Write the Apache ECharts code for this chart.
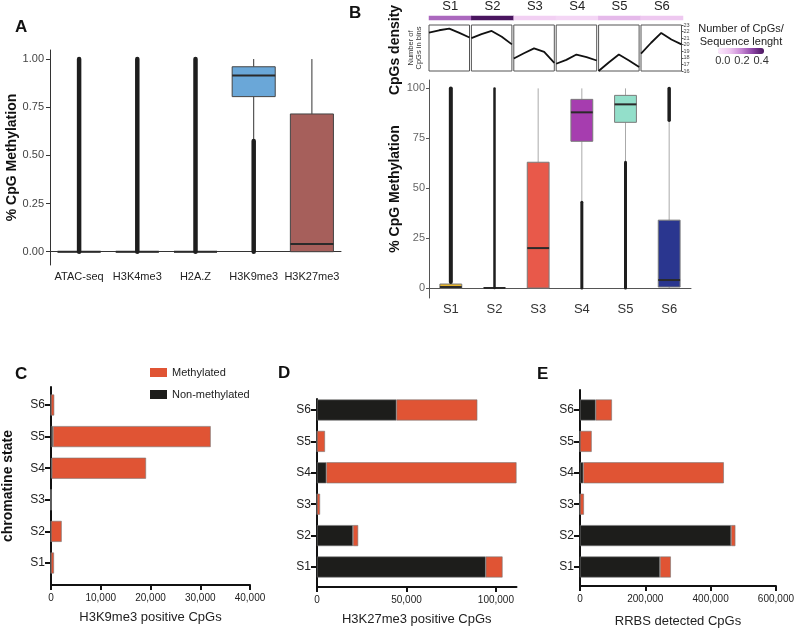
<!DOCTYPE html>
<html>
<head>
<meta charset="utf-8">
<title>CpG methylation by chromatin state</title>
<script src="https://cdn.jsdelivr.net/npm/echarts@6/dist/echarts.min.js"></script>
</head>
<body style="margin:0">
<div id="main" style="width:797px;height:629px;"></div>
<script>
// ---- A: methylation at marked regions ----
var marks = ['ATAC-seq', 'H3K4me3', 'H2A.Z', 'H3K9me3', 'H3K27me3'];
// [lower whisker, Q1, median, Q3, upper whisker]
var markStats = [
  [0, 0, 0, 0, 0],
  [0, 0, 0, 0, 0],
  [0, 0, 0, 0, 0],
  [0.58, 0.805, 0.915, 0.96, 1.0],
  [0, 0, 0.04, 0.715, 1.0]
];
// span covered by outlier points [from, to]
var markOutliers = [[0, 1], [0, 1], [0, 1], [0, 0.575], null];
var markTicks = [0, 0.25, 0.5, 0.75, 1];

// ---- B: methylation per chromatin state ----
var states = ['S1', 'S2', 'S3', 'S4', 'S5', 'S6'];
var stateStats = [
  [0, 0, 0.5, 2, 3],
  [0, 0, 0, 0, 0],
  [0, 0, 20, 63, 100],
  [43, 73.5, 88, 94.5, 100],
  [63, 83, 92, 96.5, 100],
  [0, 0.5, 4, 34, 84]
];
var stateOutliers = [[3, 100], [0, 100], null, [0, 43], [0, 63], [84, 100]];
var methTicks = [0, 25, 50, 75, 100];

// CpG density profiles (number of CpGs in bins)
var densityBins = ['1', '2', '3', '4', '5'];
var densityS1 = [21.85, 22.2, 22.45, 21.8, 21.1];
var densityS2 = [21.0, 21.6, 22.1, 21.2, 20.05];
var densityS3 = [17.9, 18.7, 19.45, 18.9, 17.25];
var densityS4 = [17.1, 17.7, 18.5, 18.1, 17.6];
var densityS5 = [16.0, 17.3, 18.5, 17.6, 16.6];
var densityS6 = [18.65, 20.3, 21.8, 20.8, 20.05];
var densityTicks = [16, 17, 18, 19, 20, 21, 22, 23];
// number of CpGs / sequence length
var cpgRatio = [0.25, 0.43, 0.04, 0.02, 0.1, 0.07];
var ratioTicks = [0, 0.2, 0.4];

// ---- C-E: methylated / non-methylated CpGs ----
var k9Non  = [0, 0, 0, 150, 400, 0];
var k9Meth = [600, 2150, 30, 18950, 31700, 650];
var k9Ticks = [0, 10000, 20000, 30000, 40000];

var k27Non  = [94300, 20100, 0, 5200, 0, 44400];
var k27Meth = [9400, 2900, 1700, 106300, 4460, 45200];
var k27Ticks = [0, 50000, 100000];

var rrbsNon  = [243000, 459000, 0, 10000, 0, 47600];
var rrbsMeth = [33000, 13000, 12000, 427000, 35500, 49400];
var rrbsTicks = [0, 200000, 400000, 600000];

var FONT = 'Liberation Sans';
var markFills = ['#ffffff', '#ffffff', '#ffffff', '#6aa7d8', '#a65f5b'];
var stateFills = ['#e8b52a', '#ffffff', '#e8594a', '#a63daf', '#93dfca', '#2a368f'];
var stateSpanWidth = [4, 2.5, 3, 3, 3, 3.5];

function comma(v) {
  return String(v).replace(/\B(?=(\d{3})+(?!\d))/g, ',');
}

function boxRenderer(fills, whiskerColor, borderColor, ratio) {
  return function (params, api) {
    var i = api.value(0);
    var w = api.size([1, 0])[0] * ratio;
    var lo = api.coord([i, api.value(1)]);
    var q1 = api.coord([i, api.value(2)]);
    var md = api.coord([i, api.value(3)]);
    var q3 = api.coord([i, api.value(4)]);
    var hi = api.coord([i, api.value(5)]);
    var x = lo[0];
    return {
      type: 'group',
      children: [
        { type: 'line', shape: { x1: x, y1: hi[1], x2: x, y2: q3[1] }, style: { stroke: whiskerColor, lineWidth: 1 } },
        { type: 'line', shape: { x1: x, y1: q1[1], x2: x, y2: lo[1] }, style: { stroke: whiskerColor, lineWidth: 1 } },
        { type: 'rect', shape: { x: x - w / 2, y: q3[1], width: w, height: q1[1] - q3[1] },
          style: { fill: fills[i], stroke: borderColor, lineWidth: 1 } },
        { type: 'line', shape: { x1: x - w / 2, y1: md[1], x2: x + w / 2, y2: md[1] }, style: { stroke: '#2a2a2a', lineWidth: 2 } }
      ]
    };
  };
}

function spanRenderer(widths) {
  return function (params, api) {
    var i = api.value(0);
    var a = api.coord([i, api.value(1)]);
    var b = api.coord([i, api.value(2)]);
    return {
      type: 'line',
      shape: { x1: a[0], y1: a[1], x2: b[0], y2: b[1] },
      style: { stroke: '#1e1e1e', lineWidth: widths[i], lineCap: 'round' }
    };
  };
}

function spans(list) {
  var out = [];
  list.forEach(function (s, i) { if (s) out.push([i, s[0], s[1]]); });
  return out;
}

var grids = [], xAxes = [], yAxes = [], series = [];

// A (grid 0)
grids.push({ left: 50, top: 50, width: 291, height: 215 });
xAxes.push({
  gridIndex: 0, type: 'category', data: marks,
  axisLine: { lineStyle: { color: '#333' } },
  axisTick: { alignWithLabel: true, length: 4, lineStyle: { color: '#333' } },
  axisLabel: { interval: 0, fontSize: 11, color: '#222', margin: 6, fontFamily: FONT }
});
yAxes.push({
  gridIndex: 0, type: 'value', min: -0.069, max: 1.047,
  splitLine: { show: false },
  axisLine: { show: true, lineStyle: { color: '#333' } },
  axisTick: { show: true, length: 4, customValues: markTicks, lineStyle: { color: '#333' } },
  axisLabel: { customValues: markTicks, fontSize: 11, color: '#444', margin: 6, fontFamily: FONT,
    formatter: function (v) { return v.toFixed(2); } },
  name: '% CpG Methylation', nameLocation: 'middle', nameGap: 29,
  nameTextStyle: { fontSize: 14, fontWeight: 'bold', color: '#111', fontFamily: FONT }
});
series.push({
  type: 'custom', xAxisIndex: 0, yAxisIndex: 0,
  renderItem: boxRenderer(markFills, '#333', '#444', 0.74),
  data: markStats.map(function (s, i) { return [i].concat(s); }),
  encode: { x: 0, y: [1, 2, 3, 4, 5] }
});
series.push({
  type: 'custom', xAxisIndex: 0, yAxisIndex: 0,
  renderItem: spanRenderer([4.5, 4.5, 4.5, 4.5, 4.5]),
  data: spans(markOutliers), encode: { x: 0, y: [1, 2] }
});

// B (grid 1)
grids.push({ left: 429, top: 80, width: 262, height: 218 });
xAxes.push({
  gridIndex: 1, type: 'category', data: states,
  axisLine: { lineStyle: { color: '#555' } },
  axisTick: { alignWithLabel: true, length: 3, lineStyle: { color: '#555' } },
  axisLabel: { interval: 0, fontSize: 13, color: '#333', margin: 5, fontFamily: FONT }
});
yAxes.push({
  gridIndex: 1, type: 'value', min: -5, max: 104.2,
  splitLine: { show: false },
  axisLine: { show: true, lineStyle: { color: '#555' } },
  axisTick: { show: true, length: 3, customValues: methTicks, lineStyle: { color: '#555' } },
  axisLabel: { customValues: methTicks, fontSize: 11, color: '#666', margin: 4, fontFamily: FONT },
  name: '% CpG Methylation', nameLocation: 'middle', nameGap: 27,
  nameTextStyle: { fontSize: 14, fontWeight: 'bold', color: '#111', fontFamily: FONT }
});
series.push({
  type: 'custom', xAxisIndex: 1, yAxisIndex: 1,
  renderItem: boxRenderer(stateFills, '#aaaaaa', '#7a7a7a', 0.5),
  data: stateStats.map(function (s, i) { return [i].concat(s); }),
  encode: { x: 0, y: [1, 2, 3, 4, 5] }
});
series.push({
  type: 'custom', xAxisIndex: 1, yAxisIndex: 1,
  renderItem: spanRenderer(stateSpanWidth),
  data: spans(stateOutliers), encode: { x: 0, y: [1, 2] }
});

// colour strip (grid 2)
grids.push({ left: 429, top: 15, width: 254, height: 5 });
xAxes.push({
  gridIndex: 2, type: 'category', data: states, position: 'top',
  axisLine: { show: false }, axisTick: { show: false },
  axisLabel: { interval: 0, fontSize: 13, color: '#222', margin: 3, fontFamily: FONT }
});
yAxes.push({ gridIndex: 2, type: 'category', data: [''], show: false });
var stripSeriesIndex = series.length;
series.push({
  type: 'heatmap', xAxisIndex: 2, yAxisIndex: 2,
  data: cpgRatio.map(function (v, i) { return [i, 0, v]; })
});

// density mini panels (grids 3-8)
var densityProfiles = [densityS1, densityS2, densityS3, densityS4, densityS5, densityS6];
densityProfiles.forEach(function (prof, i) {
  var g = grids.length;
  grids.push({ left: 429 + i * 42.4, top: 25, width: 40.5, height: 46, show: true,
    borderColor: '#555', borderWidth: 1, backgroundColor: '#fff' });
  xAxes.push({ gridIndex: g, type: 'category', data: densityBins, boundaryGap: false, show: false });
  var y = { gridIndex: g, type: 'value', min: 16, max: 23, splitLine: { show: false } };
  if (i === 5) {
    y.position = 'right';
    y.axisLine = { show: false };
    y.axisTick = { show: true, length: 2, customValues: densityTicks, lineStyle: { color: '#555' } };
    y.axisLabel = { customValues: densityTicks, fontSize: 5.5, color: '#444', margin: 2, fontFamily: FONT };
  } else if (i === 0) {
    y.axisLine = { show: false };
    y.axisTick = { show: false };
    y.axisLabel = { show: false };
    y.name = 'Number of\nCpGs in bins';
    y.nameLocation = 'middle';
    y.nameGap = 6;
    y.nameTextStyle = { fontSize: 7.5, lineHeight: 8, color: '#333', fontFamily: FONT };
  } else {
    y.show = false;
  }
  yAxes.push(y);
  series.push({
    type: 'line', xAxisIndex: g, yAxisIndex: g, data: prof,
    symbol: 'none', lineStyle: { color: '#111', width: 1.8 }
  });
});

// C-E: frame grid (value axes) + bar grid
function countPanel(frame, bars, max, ticks, axisName, nameGap, non, meth, stackId, yName) {
  var f = grids.length;
  grids.push(frame);
  xAxes.push({
    gridIndex: f, type: 'value', min: 0, max: max, splitLine: { show: false },
    axisLine: { lineStyle: { color: '#111', width: 2 } },
    axisTick: { show: true, length: 5, customValues: ticks, lineStyle: { color: '#111', width: 2 } },
    axisLabel: { customValues: ticks, fontSize: 10, color: '#222', margin: 8, fontFamily: FONT, formatter: comma },
    name: axisName, nameLocation: 'middle', nameGap: nameGap,
    nameTextStyle: { fontSize: 13, color: '#222', fontFamily: FONT }
  });
  var fy = {
    gridIndex: f, type: 'value', min: 0, max: 1, splitLine: { show: false },
    axisLine: { show: true, lineStyle: { color: '#111', width: 2 } },
    axisTick: { show: false }, axisLabel: { show: false }
  };
  if (yName) {
    fy.name = yName; fy.nameLocation = 'middle'; fy.nameGap = 36;
    fy.nameTextStyle = { fontSize: 14, fontWeight: 'bold', color: '#111', fontFamily: FONT };
  }
  yAxes.push(fy);
  var b = grids.length;
  grids.push(bars);
  xAxes.push({ gridIndex: b, type: 'value', min: 0, max: max, show: false });
  yAxes.push({
    gridIndex: b, type: 'category', data: states,
    axisLine: { show: false },
    axisTick: { show: true, alignWithLabel: true, length: 6, lineStyle: { color: '#111', width: 2 } },
    axisLabel: { interval: 0, fontSize: 12, color: '#222', margin: 6, fontFamily: FONT }
  });
  series.push({
    name: 'Non-methylated', type: 'bar', stack: stackId, xAxisIndex: b, yAxisIndex: b,
    data: non, barWidth: 21, itemStyle: { color: '#1d1d1b', borderColor: '#777', borderWidth: 0.6 }
  });
  series.push({
    name: 'Methylated', type: 'bar', stack: stackId, xAxisIndex: b, yAxisIndex: b,
    data: meth, barWidth: 21, itemStyle: { color: '#e05434', borderColor: '#777', borderWidth: 0.6 }
  });
}

countPanel({ left: 51, top: 387, width: 199, height: 198 },
  { left: 51, top: 389.2, width: 199, height: 189.6 },
  40000, k9Ticks, 'H3K9me3 positive CpGs', 26, k9Non, k9Meth, 'c', 'chromatine state');
countPanel({ left: 317, top: 399, width: 199.5, height: 188 },
  { left: 317, top: 394.3, width: 199.5, height: 188.4 },
  111500, k27Ticks, 'H3K27me3 positive CpGs', 26, k27Non, k27Meth, 'd');
countPanel({ left: 580, top: 390, width: 197.5, height: 197 },
  { left: 580, top: 394.3, width: 197.5, height: 188.4 },
  600000, rrbsTicks, 'RRBS detected CpGs', 29, rrbsNon, rrbsMeth, 'e');

// colour bar legend geometry
var vmMin = -0.05, vmMax = 0.43, barLeft = 718, barLen = 46;
var legendLabels = ratioTicks.map(function (v) {
  return {
    type: 'text', x: barLeft + (v - vmMin) / (vmMax - vmMin) * barLen, y: 61,
    style: { text: v.toFixed(1), font: '11px ' + FONT, fill: '#333', align: 'center', verticalAlign: 'middle' }
  };
});

var letter = { fontSize: 17, fontWeight: 'bold', color: '#111', fontFamily: FONT };

var myChart = echarts.init(document.getElementById('main'));
myChart.setOption({
  animation: false,
  backgroundColor: '#fff',
  title: [
    { text: 'A', left: 15, top: 19, padding: 0, textStyle: letter },
    { text: 'B', left: 349, top: 5, padding: 0, textStyle: letter },
    { text: 'C', left: 15, top: 366, padding: 0, textStyle: letter },
    { text: 'D', left: 278, top: 365, padding: 0, textStyle: letter },
    { text: 'E', left: 537, top: 366, padding: 0, textStyle: letter },
    { text: 'Number of CpGs/\nSequence lenght', left: 741, top: 22, padding: 0, textAlign: 'center',
      textStyle: { fontSize: 11, fontWeight: 'normal', lineHeight: 13, color: '#222', fontFamily: FONT } }
  ],
  legend: {
    data: ['Methylated', 'Non-methylated'], orient: 'vertical', left: 150, top: 367,
    itemWidth: 17, itemHeight: 9, itemGap: 11, icon: 'rect', padding: 0,
    itemStyle: { borderWidth: 0 },
    textStyle: { fontSize: 11, color: '#222', fontFamily: FONT }
  },
  visualMap: {
    type: 'continuous', seriesIndex: stripSeriesIndex, min: vmMin, max: vmMax,
    orient: 'horizontal', left: barLeft, top: 48, itemWidth: 6, itemHeight: barLen,
    calculable: false, padding: 0, text: null, hoverLink: false,
    inRange: { color: ['#fde9fd', '#eec8f0', '#c98ad6', '#8c45a5', '#4a155f'] }
  },
  graphic: [
    { type: 'text', x: 395, y: 50, rotation: Math.PI / 2,
      style: { text: 'CpGs density', font: 'bold 14px ' + FONT, fill: '#111', align: 'center', verticalAlign: 'middle' } }
  ].concat(legendLabels),
  grid: grids,
  xAxis: xAxes,
  yAxis: yAxes,
  series: series
});
</script>
</body>
</html>
